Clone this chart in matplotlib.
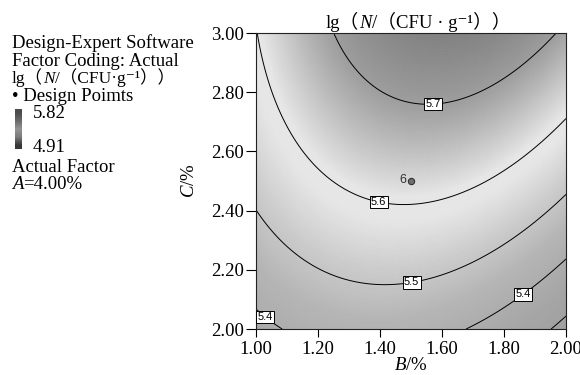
import numpy as np
import matplotlib
matplotlib.use("Agg")
import matplotlib.pyplot as plt
from matplotlib.colors import LinearSegmentedColormap, Normalize
from matplotlib.transforms import IdentityTransform

plt.rcParams['font.family'] = ['Liberation Serif', 'DejaVu Serif', 'Noto Sans CJK SC']
plt.rcParams['mathtext.fontset'] = 'custom'
plt.rcParams['mathtext.rm'] = 'Liberation Serif'
plt.rcParams['mathtext.it'] = 'Liberation Serif:italic'

# factor ranges (actual units), A fixed at 4.00%
b_lim = [1.0, 2.0]
c_lim = [2.0, 3.0]
# quadratic model in coded units: const, B, C, BC, B^2, C^2
coef = [5.626, -0.002, 0.159, 0.048, -0.105, -0.036]
levels = [5.3, 5.4, 5.5, 5.6, 5.7]
label_pos = [(1.57, 2.78), (1.40, 2.45), (1.50, 2.17), (1.86, 2.12), (1.045, 2.06)]
design_b = [1.5]
design_c = [2.5]
design_n = ["6"]
xticks = [1.00, 1.20, 1.40, 1.60, 1.80, 2.00]
yticks = [2.00, 2.20, 2.40, 2.60, 2.80, 3.00]
bar_hi = "5.82"
bar_lo = "4.91"
# grey shading of the response (greyscale print of the colour map)
shade_val = [5.25, 5.35, 5.45, 5.52, 5.58, 5.61, 5.65, 5.70, 5.76]
shade_gray = [0.62, 0.65, 0.71, 0.80, 0.90, 0.90, 0.78, 0.62, 0.50]
swatch_gray = [0.30, 0.42, 0.58, 0.48, 0.22]

W, H = 580, 375
fig = plt.figure(figsize=(W / 100, H / 100), dpi=100)
ax = fig.add_axes([256 / W, 1 - 329 / H, 310 / W, 296 / H])

B = np.linspace(b_lim[0], b_lim[1], 300)
C = np.linspace(c_lim[0], c_lim[1], 300)
BB, CC = np.meshgrid(B, C)
x = (BB - 1.5) / 0.5
y = (CC - 2.5) / 0.5
Z = coef[0] + coef[1]*x + coef[2]*y + coef[3]*x*y + coef[4]*x**2 + coef[5]*y**2

vmin, vmax = shade_val[0], shade_val[-1]
pos = [(v - vmin) / (vmax - vmin) for v in shade_val]
cmap = LinearSegmentedColormap.from_list("shade", [(p, (g, g, g)) for p, g in zip(pos, shade_gray)])
ax.pcolormesh(BB, CC, Z, cmap=cmap, norm=Normalize(vmin, vmax), shading='gouraud')

cs = ax.contour(BB, CC, Z, levels=levels, colors='black', linewidths=0.7)
labs = ax.clabel(cs, manual=label_pos, inline=False, fmt='%.1f', fontsize=8)
for t in labs:
    t.set_rotation(0)
    t.set_fontfamily('Liberation Sans')
    t.set_bbox(dict(boxstyle='square,pad=0.12', fc='white', ec='black', lw=0.7))

ax.plot(design_b, design_c, 'o', ms=4.5, mfc='#707070', mec='#303030', mew=0.8)
for b, c, n in zip(design_b, design_c, design_n):
    ax.text(b - 0.015, c + 0.005, n, ha='right', va='center', fontsize=9,
            family='Liberation Sans', color='#333333')

ax.set_xlim(b_lim)
ax.set_ylim(c_lim)
ax.set_xticks(xticks)
ax.set_xticklabels(["%.2f" % v for v in xticks])
ax.set_yticks(yticks)
ax.set_yticklabels(["%.2f" % v for v in yticks])
ax.tick_params(axis='x', direction='out', length=6, width=0.8, pad=3, labelsize=13.5)
ax.tick_params(axis='y', direction='out', length=7, width=0.8, pad=2, labelsize=13.5)
for s in ax.spines.values():
    s.set_linewidth(0.8)
    s.set_color('#222222')
ax.set_xlabel(r'$B$/%', fontsize=13.5, labelpad=-1)
ax.set_ylabel(r'$C$/%', fontsize=13.5, labelpad=9)

r = fig.canvas.get_renderer()


def chain(x0, ytop, parts, size=13.5, center=False):
    # pieces of one line, some italic, placed side by side in pixels
    texts = [fig.text(0, H - ytop, s, transform=IdentityTransform(), fontsize=size,
                      fontstyle=st, va='baseline', ha='left') for s, st in parts]
    widths = [t.get_window_extent(r).width for t in texts]
    xx = x0 - sum(widths) / 2 if center else x0
    for t, w in zip(texts, widths):
        t.set_x(xx)
        xx += w


chain(418, 28, [("lg（", 'normal'), ("N", 'italic'), ("/（CFU · g⁻¹））", 'normal')], center=True)

def ltext(x0, ytop, s):
    fig.text(x0, H - ytop, s, transform=IdentityTransform(), fontsize=13.5,
             va='baseline', ha='left')

ltext(12, 48, "Design-Expert Software")
ltext(12, 66, "Factor Coding: Actual")
chain(12, 83, [("lg（", 'normal'), ("N", 'italic'), ("/（CFU·g⁻¹））", 'normal')], size=12.5)
ltext(12, 101, "• Design Poimts")
ltext(33, 118, bar_hi)
ltext(33, 152, bar_lo)
ltext(12, 172, "Actual Factor")
chain(12, 189, [("A", 'italic'), ("=4.00%", 'normal')])

sax = fig.add_axes([15 / W, 1 - 149 / H, 7 / W, 40 / H])
g = np.array(swatch_gray)[:, None]
sax.imshow(g, cmap='gray', vmin=0, vmax=1, aspect='auto', interpolation='bilinear')
sax.axis('off')

fig.savefig("out.png", dpi=100)
